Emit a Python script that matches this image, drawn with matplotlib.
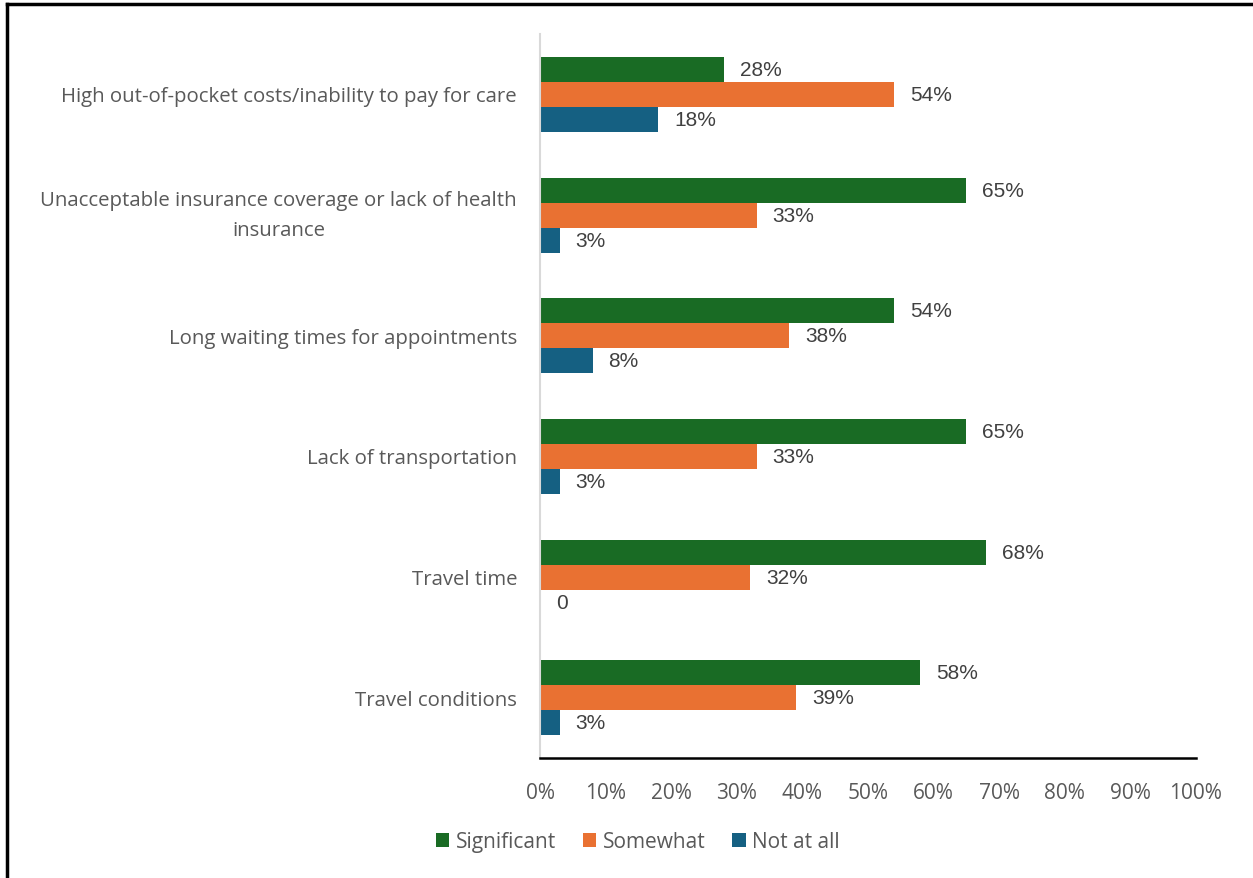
import matplotlib
matplotlib.use("Agg")
import matplotlib.pyplot as plt
from matplotlib.lines import Line2D
import numpy as np

categories = [
    "High out-of-pocket costs/inability to pay for care",
    "Unacceptable insurance coverage or lack of health\ninsurance",
    "Long waiting times for appointments",
    "Lack of transportation",
    "Travel time",
    "Travel conditions",
]
series_names = ["Significant", "Somewhat", "Not at all"]
significant = [28, 65, 54, 65, 68, 58]
somewhat = [54, 33, 38, 33, 32, 39]
not_at_all = [18, 3, 8, 3, 0, 3]
value_labels = [
    ["28%", "65%", "54%", "65%", "68%", "58%"],
    ["54%", "33%", "38%", "33%", "32%", "39%"],
    ["18%", "3%", "8%", "3%", "0", "3%"],
]
x_ticks = list(range(0, 101, 10))
x_tick_labels = [f"{t}%" for t in x_ticks]

colors = ["#196B24", "#E97132", "#156082"]
axis_text = "#595959"
value_text = "#404040"
label_font = ["Open Sans", "DejaVu Sans"]
value_font = ["Liberation Sans", "DejaVu Sans"]

fig = plt.figure(figsize=(12.53, 8.79), dpi=100)
ax = fig.add_axes([0.431, 0.1365, 0.5235, 0.8235])

n = len(categories)
y = np.arange(n)
bar_h = 0.207
offsets = [-bar_h, 0.0, bar_h]
all_series = [significant, somewhat, not_at_all]

for s, (vals, off, col, name) in enumerate(zip(all_series, offsets, colors, series_names)):
    ax.barh(y + off, vals, height=bar_h, color=col, label=name, zorder=2)
    for i, v in enumerate(vals):
        ax.annotate(value_labels[s][i], xy=(v, y[i] + off), xytext=(16, 0),
                    textcoords="offset pixels",
                    va="center", ha="left", fontsize=15, color=value_text,
                    family=value_font)

ax.set_ylim(n - 0.5, -0.5)
ax.set_xlim(0, 100)

# category labels, right-aligned against the axis, wrapped lines centred
ax.set_yticks(y)
ax.set_yticklabels([])
for i, cat in enumerate(categories):
    dy = 0 if "\n" in cat else -2
    ax.annotate(cat, xy=(0, y[i]), xycoords=("axes fraction", "data"),
                xytext=(-23, dy), textcoords="offset pixels",
                ha="right", va="center", multialignment="center",
                linespacing=1.65, fontsize=14.7, color=axis_text,
                family=label_font)

ax.set_xticks(x_ticks)
ax.set_xticklabels(x_tick_labels, fontsize=15, color=axis_text, family=label_font)
ax.tick_params(axis="both", length=0)
ax.tick_params(axis="x", pad=17)

for side in ["top", "right"]:
    ax.spines[side].set_visible(False)
ax.spines["left"].set_color("#D9D9D9")
ax.spines["left"].set_linewidth(1.5)
ax.spines["bottom"].set_color("black")
ax.spines["bottom"].set_linewidth(1.8)

leg = fig.legend(loc="center", bbox_to_anchor=(0.509, 1 - 843 / 879), ncol=3,
                 frameon=False, handlelength=0.65, handleheight=0.65,
                 handletextpad=0.3, columnspacing=1.3,
                 prop={"family": label_font, "size": 15})
for t in leg.get_texts():
    t.set_color(axis_text)

# outer frame
fig.add_artist(Line2D([6.5 / 1253, 6.5 / 1253], [0, 1 - 5 / 879], color="black", lw=2.5,
                      transform=fig.transFigure))
fig.add_artist(Line2D([6.5 / 1253, 1], [1 - 5 / 879, 1 - 5 / 879], color="black", lw=2.5,
                      transform=fig.transFigure))

fig.savefig("out.png", dpi=100)
